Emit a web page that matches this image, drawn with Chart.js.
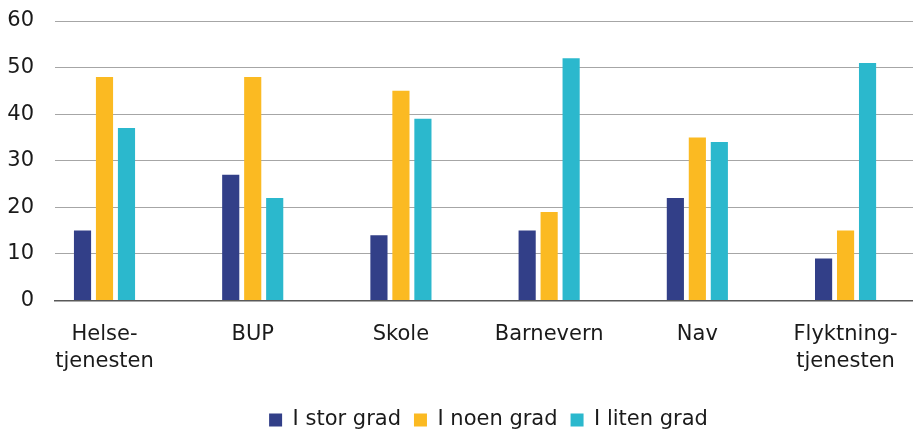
<!DOCTYPE html>
<html>
<head>
<meta charset="utf-8">
<script src="https://cdn.jsdelivr.net/npm/chart.js@4"></script>
<style>
  html, body { margin: 0; padding: 0; background: #fff; overflow: hidden; }
  #wrap { width: 913px; height: 431px; position: relative; }
</style>
</head>
<body>
<div id="wrap"><canvas id="chart"></canvas></div>
<script>
  const categories = [['Helse-', 'tjenesten'], 'BUP', 'Skole', 'Barnevern', 'Nav', ['Flyktning-', 'tjenesten']];
  const seriesNames = ['I stor grad', 'I noen grad', 'I liten grad'];
  const storGrad = [15, 27, 14, 15, 22, 9];
  const noenGrad = [48, 48, 45, 19, 35, 15];
  const litenGrad = [37, 22, 39, 52, 34, 51];
  const yTicks = [0, 10, 20, 30, 40, 50, 60];
  const colors = ['#323f88', '#fbba22', '#2bb8cd'];

  const font = { family: "'DejaVu Sans', sans-serif", size: 21 };
  const toPoints = arr => arr.map((v, i) => ({ x: i, y: v }));

  // legend sits centred under the plot area and a little lower than default
  const legendShift = {
    id: 'legendShift',
    afterLayout(chart) {
      const lg = chart.legend;
      lg.left += 32; lg.right += 32;
      lg.top += 9.5; lg.bottom += 9.5;
    }
  };

  new Chart(document.getElementById('chart'), {
    type: 'bar',
    data: {
      datasets: [storGrad, noenGrad, litenGrad].map((vals, k) => ({
        label: seriesNames[k],
        data: toPoints(vals),
        backgroundColor: colors[k],
        categoryPercentage: 0.445,
        barPercentage: 0.78
      }))
    },
    plugins: [legendShift],
    options: {
      responsive: true,
      maintainAspectRatio: false,
      animation: false,
      layout: { padding: 0 },
      plugins: {
        legend: {
          position: 'bottom',
          labels: {
            color: '#1a1a1a', font: font,
            boxWidth: 13, boxHeight: 13, padding: 13
          }
        },
        tooltip: { enabled: false }
      },
      scales: {
        x: {
          type: 'linear',
          offset: false,
          min: -0.334,
          max: 5.455,
          grid: { display: false },
          border: { color: '#595959', width: 1.5 },
          ticks: {
            stepSize: 1,
            includeBounds: false,
            autoSkip: false,
            maxRotation: 0,
            padding: 12,
            color: '#1a1a1a',
            font: Object.assign({ lineHeight: 1.3 }, font),
            callback: v => Number.isInteger(v) ? categories[v] : ''
          }
        },
        y: {
          min: 0,
          max: 60,
          afterFit: s => { s.width = 55; s.paddingTop = 21; s.paddingBottom = 0; },
          afterBuildTicks: s => { s.ticks = yTicks.map(v => ({ value: v })); },
          grid: { color: '#a6a6a6', lineWidth: 1, drawTicks: false },
          border: { display: false },
          ticks: { padding: 21, color: '#1a1a1a', font: font }
        }
      }
    }
  });
</script>
</body>
</html>
